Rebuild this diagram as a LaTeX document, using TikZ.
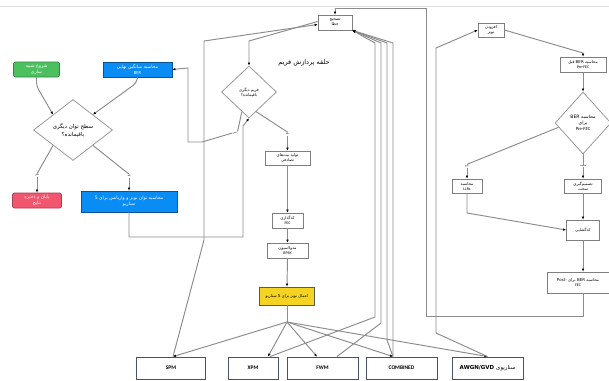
\documentclass[tikz,border=0pt]{standalone}
\usepackage{fontspec}
\setmainfont{Carlito}
\newfontfamily\farsi[Script=Arabic]{DejaVu Sans}
\TeXXeTstate=1
\usetikzlibrary{arrows.meta, shapes.geometric}
\newcommand{\pers}[1]{{\farsi\beginR #1\endR}}
\definecolor{lineg}{HTML}{8C8C8C}
\definecolor{boxg}{HTML}{7F7F7F}
\definecolor{scenb}{HTML}{44546A}
\definecolor{startg}{HTML}{4CBF5E}
\definecolor{calcb}{HTML}{0A8CF5}
\definecolor{endr}{HTML}{F2556E}
\definecolor{noisey}{HTML}{F5D322}

\begin{document}
\begin{tikzpicture}[x=1pt, y=-1pt,
  >={Latex[length=3pt, width=2.6pt, color=black]},
  flow/.style={draw=lineg, line width=0.95pt},
  stepbox/.style={draw=boxg, fill=white, line width=0.7pt, inner sep=1pt,
    align=center, font=\fontsize{4}{5}\selectfont},
  colbox/.style={line width=0.7pt, inner sep=1pt, align=center, text=white,
    font=\fontsize{4.6}{6}\selectfont},
  scenbox/.style={draw=scenb, fill=white, line width=0.9pt, minimum height=22pt,
    font=\fontsize{5.5}{6}\selectfont\bfseries},
  decide/.style={diamond, draw=boxg!80, line width=0.8pt, inner sep=0pt,
    align=center, font=\fontsize{4}{5}\selectfont},
  ynlabel/.style={inner sep=0.5pt, font=\fontsize{2.6}{3}\selectfont}]
  \fill[white] (0,0) rectangle (609,380);
  \useasboundingbox (0,0) rectangle (609,380);
  \draw[gray!25, line width=0.6pt] (0,6) -- (609,6);

  % left part
  \node[colbox, fill=startg, draw=startg!70!black, rounded corners=2pt, minimum width=46pt, minimum height=15pt] (start) at (36.5,69.5) {\pers{شروع شبیه}\\\pers{سازی}};
  \node[colbox, fill=calcb, draw=calcb!60!black, minimum width=69pt, minimum height=15pt] (berfinal) at (137.5,69.5) {\pers{محاسبه میانگین نهایی}\\BER};
  \node[decide, minimum width=79pt, minimum height=61pt, font=\fontsize{5.5}{8}\selectfont] (dpow) at (73,130) {\pers{سطح توان دیگری}\\\pers{باقیمانده؟}};
  \node[ynlabel] (no1) at (37,175.5) {\pers{خیر}};
  \node[ynlabel] (yes1) at (129,176) {\pers{بله}};
  \node[colbox, fill=endr, draw=endr!70!black, rounded corners=2pt, minimum width=49pt, minimum height=15pt] (finish) at (37,200.5) {\pers{پایان و ذخیره}\\\pers{نتایج}};
  \node[colbox, fill=calcb, draw=calcb!60!black, minimum width=96pt, minimum height=21pt] (noise5) at (129,201.5) {\pers{محاسبه توان نویز و واریانس برای 5}\\\pers{سناریو}};

  \draw[flow, ->, rounded corners=4pt] (start.south) -- (36.5,86) -- (dpow.north west);
  \draw[flow, ->, rounded corners=4pt] (berfinal.south) -- (136.5,83) -- (dpow.north east);
  \draw[flow] (dpow.south west) -- (no1.north);
  \draw[flow, ->] (no1.south) -- (no1.south |- finish.north);
  \draw[flow] (dpow.south east) -- (yes1.north);
  \draw[flow, ->] (yes1.south) -- (noise5.north);

  % frame loop
  \node[font=\fontsize{6.5}{8}\selectfont, inner sep=0pt] (looptitle) at (304,63) {\pers{حلقه پردازش فریم}};
  \node[stepbox, minimum width=34pt, minimum height=15pt] (errcorr) at (335,22.5) {\pers{تصحیح}\\\pers{خطا}};
  \node[decide, minimum width=55pt, minimum height=52pt] (dframe) at (249,92) {\pers{فریم دیگری}\\\pers{باقیمانده؟}};
  \node[ynlabel] (no2) at (235,133) {\pers{خیر}};
  \node[ynlabel] (yes2) at (287.5,134) {\pers{بله}};
  \node[stepbox, minimum width=45pt, minimum height=14pt] (bits) at (287.5,158) {\pers{تولید بیت‌های}\\\pers{تصادفی}};
  \node[stepbox, minimum width=31pt, minimum height=15pt] (fec) at (287.5,220.5) {\pers{کدگذاری}\\FEC};
  \node[stepbox, minimum width=41pt, minimum height=15pt] (bpsk) at (287.5,250.5) {\pers{مدولاسیون}\\BPSK};
  \node[stepbox, fill=noisey, draw=black!65, line width=0.9pt, minimum width=55pt, minimum height=18pt] (noiseapply) at (287,296) {\pers{اعمال نویز برای 5 سناریو}};
  \coordinate (fan) at (287,322);

  \draw[flow, ->] (noise5.south) -- (129,237) -- (243,237) -- (243,126) -- (dframe.south);
  \draw[flow, ->] ([yshift=1]errcorr.west) -- (249,41) -- (dframe.north);
  \draw[flow] (dframe.250) -- (no2.north east);
  \draw[flow, ->] (no2.west) -- (202,142) -- (188,142) -- (188,68) -- (berfinal.east);
  \draw[flow] (dframe.290) -- (yes2.north);
  \draw[flow, ->] (yes2.south) -- (bits.north);
  \draw[flow, ->] (bits.south) -- (fec.north);
  \draw[flow, ->] (fec.south) -- (bpsk.north);
  \draw[flow, ->] (bpsk.south) -- (noiseapply.north);
  \draw[flow] (noiseapply.south) -- (fan);

  % scenarios
  \node[scenbox, minimum width=69pt] (spm) at (171,368) {SPM};
  \node[scenbox, minimum width=50pt] (xpm) at (253,368) {XPM};
  \node[scenbox, minimum width=71pt] (fwm) at (322.5,368) {FWM};
  \node[scenbox, minimum width=71pt] (comb) at (401.5,368) {COMBINED};
  \node[scenbox, minimum width=71pt] (awgn) at (487.5,368) {\pers{{\mdseries سناریوی} \beginL AWGN/GVD\endL}};

  \foreach \b/\dx in {spm/2, xpm/15, fwm/-5.5, comb/-8.5, awgn/0}
    \draw[flow, ->] (fan) -- ([xshift=\dx]\b.north);
  \draw[flow, ->] ([xshift=2]spm.north) -- (204,240) -- (204,41) -- ([yshift=-2]errcorr.west);
  \draw[flow, ->] ([xshift=17]xpm.north) -- (375,317) -- (375,43) -- (errcorr.south east);
  \draw[flow, ->] ([xshift=14.5]fwm.north) -- (381,323) -- (381,43) -- (errcorr.south east);
  \draw[flow, ->] ([xshift=-8.5]comb.north) -- (387,340) -- (387,43) -- (errcorr.south east);
  \draw[flow, ->] ([xshift=-8.5]comb.north) -- (393,43) -- (errcorr.south east);

  % right part
  \node[stepbox, minimum width=26pt, minimum height=14pt] (addnoise) at (491,30) {\pers{افزودن}\\\pers{نویز}};
  \node[stepbox, minimum width=46pt, minimum height=15pt] (berpre) at (583,64.5) {\pers{محاسبه BER قبل}\\Pre-FEC};
  \node[decide, minimum width=56pt, minimum height=62pt, font=\fontsize{4.6}{6}\selectfont] (dpre) at (583,123) {\pers{محاسبه BER}\\\pers{برای}\\Pre-FEC};
  \node[ynlabel] (softlab) at (467,166) {\pers{نرم}};
  \node[ynlabel] (hardlab) at (583,166) {\pers{سخت}};
  \node[stepbox, minimum width=30pt, minimum height=14pt] (llr) at (467,186) {\pers{محاسبه}\\LLRs};
  \node[stepbox, minimum width=37pt, minimum height=14pt] (hard) at (583,186) {\pers{تصمیم‌گیری}\\\pers{سخت}};
  \node[stepbox, minimum width=33pt, minimum height=20pt] (dec) at (583,230) {\pers{کدگشایی}};
  \node[stepbox, minimum width=62pt, minimum height=21pt] (berpost) at (578,282.5) {\pers{محاسبه BER برای Post-}\\FEC};

  \draw[flow, ->] (awgn.north) -- (436,333) -- (436,48) -- (addnoise.west);
  \draw[flow, ->] (addnoise.east) -- (583,53) -- (berpre.north);
  \draw[flow, ->] (berpre.south) -- (dpre.north);
  \draw[flow] (dpre.190) -- (softlab.north);
  \draw[flow, ->] (softlab.south) -- (llr.north);
  \draw[flow] (dpre.south) -- (hardlab.north);
  \draw[flow, ->] (hardlab.south) -- (hard.north);
  \draw[flow, ->] (llr.south) -- (467,213) -- (dec.west);
  \draw[flow, ->] (hard.south) -- (dec.north);
  \draw[flow, ->] (dec.south) -- (dec.south |- berpost.north);
  \draw[flow, ->] (dec.south |- berpost.south) -- (583,316) -- (426,316) -- (426,8) -- (335,8) -- (errcorr.north);
\end{tikzpicture}
\end{document}
